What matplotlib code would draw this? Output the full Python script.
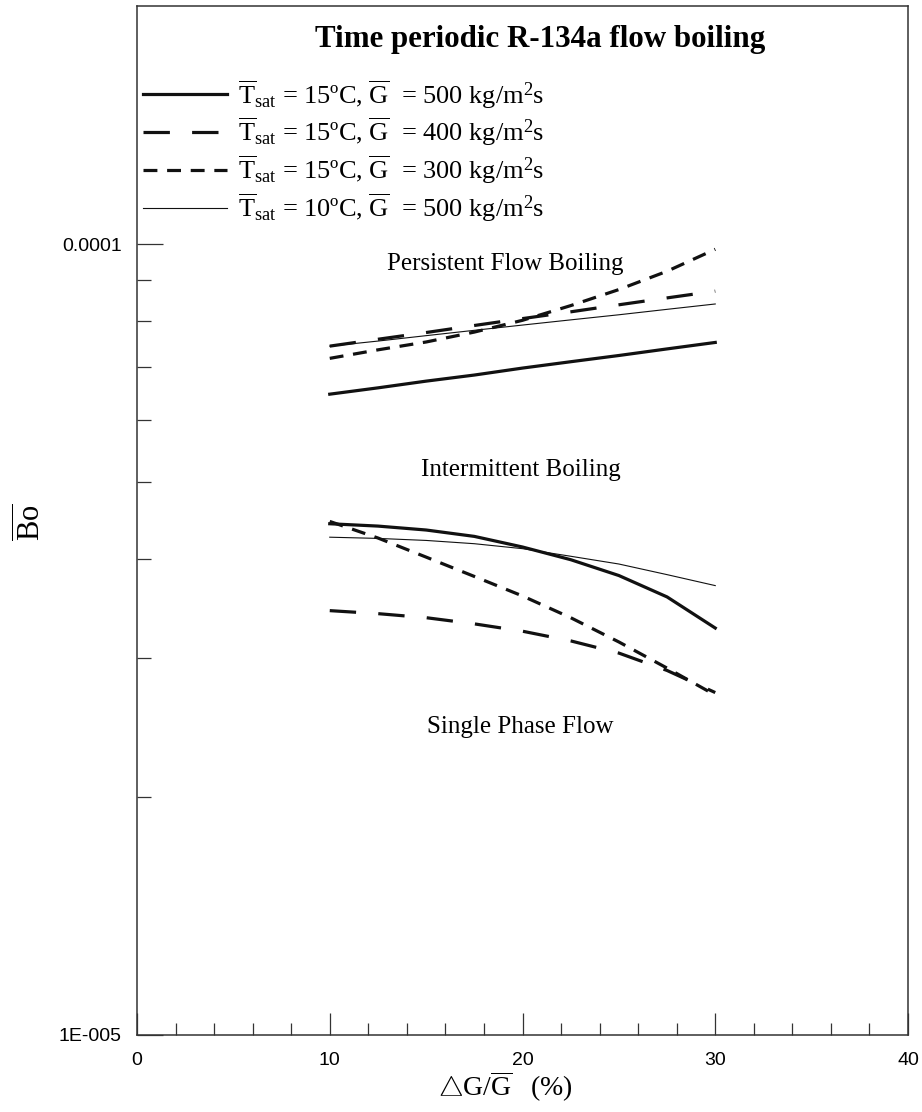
import numpy as np
import matplotlib
matplotlib.use('Agg')
import matplotlib.pyplot as plt
from matplotlib.ticker import FixedLocator, FuncFormatter, NullFormatter

plt.rcParams['mathtext.fontset'] = 'custom'
plt.rcParams['mathtext.rm'] = 'Liberation Serif'
plt.rcParams['mathtext.it'] = 'Liberation Serif:italic'
plt.rcParams['mathtext.bf'] = 'Liberation Serif:bold'
plt.rcParams['lines.scale_dashes'] = False

# amplitude of mass flux oscillation (%)
dg = [10, 12.5, 15, 17.5, 20, 22.5, 25, 27.5, 30]

# upper boundary: persistent flow boiling
up_t15_g500 = [6.46e-5, 6.58e-5, 6.71e-5, 6.83e-5, 6.97e-5, 7.10e-5, 7.23e-5, 7.37e-5, 7.51e-5]
up_t15_g400 = [7.43e-5, 7.58e-5, 7.73e-5, 7.89e-5, 8.05e-5, 8.21e-5, 8.38e-5, 8.55e-5, 8.72e-5]
up_t15_g300 = [7.17e-5, 7.35e-5, 7.52e-5, 7.74e-5, 8.01e-5, 8.36e-5, 8.76e-5, 9.24e-5, 9.85e-5]
up_t10_g500 = [7.43e-5, 7.54e-5, 7.66e-5, 7.78e-5, 7.90e-5, 8.02e-5, 8.14e-5, 8.27e-5, 8.40e-5]

# lower boundary: intermittent boiling
lo_t15_g500 = [4.43e-5, 4.40e-5, 4.35e-5, 4.27e-5, 4.14e-5, 3.99e-5, 3.81e-5, 3.58e-5, 3.27e-5]
lo_t15_g400 = [3.44e-5, 3.41e-5, 3.37e-5, 3.31e-5, 3.24e-5, 3.15e-5, 3.04e-5, 2.89e-5, 2.71e-5]
lo_t15_g300 = [4.46e-5, 4.25e-5, 4.02e-5, 3.80e-5, 3.59e-5, 3.37e-5, 3.14e-5, 2.91e-5, 2.69e-5]
lo_t10_g500 = [4.26e-5, 4.245e-5, 4.22e-5, 4.18e-5, 4.12e-5, 4.03e-5, 3.94e-5, 3.82e-5, 3.70e-5]

tb = r'$\overline{\mathrm{T}}_{\mathrm{sat}}$'
gb = r'$\overline{\mathrm{G}}$'
labels = [
    tb + ' = 15ºC, ' + gb + '  = 500 kg/m$^{2}$s',
    tb + ' = 15ºC, ' + gb + '  = 400 kg/m$^{2}$s',
    tb + ' = 15ºC, ' + gb + '  = 300 kg/m$^{2}$s',
    tb + ' = 10ºC, ' + gb + '  = 500 kg/m$^{2}$s',
]

fig = plt.figure(figsize=(9.22, 11.12), dpi=100)
ax = fig.add_axes([137/922, 1 - 1035/1112, 771/922, (1035 - 6)/1112])

k = '#111111'
styles = [dict(lw=2.3, ls='-'),
          dict(lw=2.3, ls=(0, (19, 16))),
          dict(lw=2.3, ls=(0, (10, 7))),
          dict(lw=0.8, ls='-')]

ups = [up_t15_g500, up_t15_g400, up_t15_g300, up_t10_g500]
los = [lo_t15_g500, lo_t15_g400, lo_t15_g300, lo_t10_g500]
for u, l, st, lab in zip(ups, los, styles, labels):
    ax.plot(dg, u, color=k, label=lab, **st)
    ax.plot(dg, l, color=k, **st)

ax.set_yscale('log')
ax.set_xlim(0, 40)
ax.set_ylim(1e-5, 2e-4)

ax.xaxis.set_major_locator(FixedLocator([0, 10, 20, 30, 40]))
ax.xaxis.set_minor_locator(FixedLocator(np.arange(2, 40, 2)))
ax.yaxis.set_major_locator(FixedLocator([1e-5, 1e-4]))
ax.yaxis.set_minor_locator(FixedLocator([2e-5, 3e-5, 4e-5, 5e-5, 6e-5, 7e-5, 8e-5, 9e-5]))
ax.yaxis.set_major_formatter(FuncFormatter(lambda v, p: '0.0001' if v > 5e-5 else '1E-005'))
ax.yaxis.set_minor_formatter(NullFormatter())

ax.tick_params(which='both', direction='in', top=False, right=False, color='#333333', width=0.9)
ax.tick_params(axis='x', which='major', length=16, pad=12, labelsize=14)
ax.tick_params(axis='x', which='minor', length=9)
ax.tick_params(axis='y', which='major', length=18.5, pad=11, labelsize=14)
ax.tick_params(axis='y', which='minor', length=10)
for lb in ax.get_xticklabels() + ax.get_yticklabels():
    lb.set_family('Liberation Sans')
for s in ax.spines.values():
    s.set_linewidth(1.1)
    s.set_color('#333333')

ax.legend(loc='upper left', bbox_to_anchor=(6/771, 0.930), frameon=False,
          prop={'family': 'Liberation Serif', 'size': 19},
          handlelength=3.2, handletextpad=0.4, labelspacing=0.2,
          borderaxespad=0, borderpad=0)

serif = 'Liberation Serif'
ax.text(0.5227, 0.967, 'Time periodic R-134a flow boiling', transform=ax.transAxes,
        ha='center', va='center', family=serif, fontsize=22.3, fontweight='bold')
ax.text(19.1, 9.45e-5, 'Persistent Flow Boiling', ha='center', va='center', family=serif, fontsize=18)
ax.text(19.9, 5.18e-5, 'Intermittent Boiling', ha='center', va='center', family=serif, fontsize=18)
ax.text(19.9, 2.45e-5, 'Single Phase Flow', ha='center', va='center', family=serif, fontsize=18)

fig.text(30/922, 1 - 522/1112, r'$\overline{\mathrm{Bo}}$', rotation=90,
         ha='center', va='center', fontsize=22)
fig.text(505/922, 1 - 1087/1112, r'$\bigtriangleup\mathrm{G/}\overline{\mathrm{G}}\ \ \ \mathrm{(\%)}$',
         ha='center', va='center', fontsize=20)

plt.savefig('out.png', dpi=100)
plt.close(fig)
